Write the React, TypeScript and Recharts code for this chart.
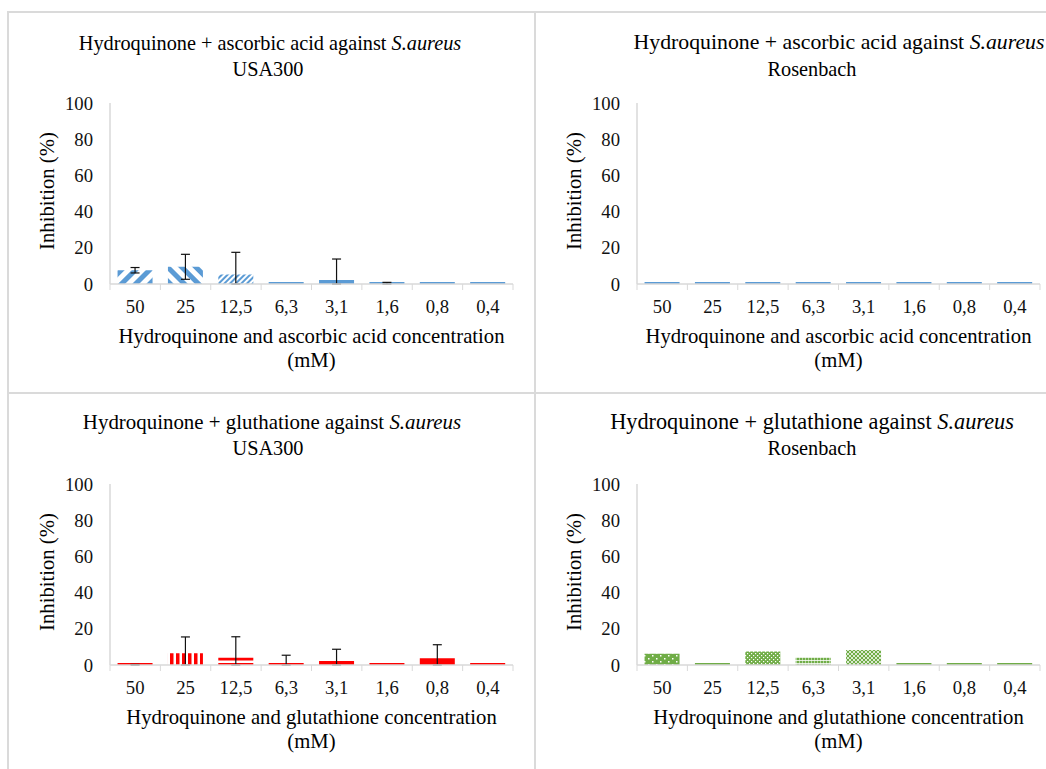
import React from "react";
import { BarChart, Bar, XAxis, YAxis, ErrorBar, Cell } from "recharts";

// ---------- data ----------
const categories = ["50", "25", "12,5", "6,3", "3,1", "1,6", "0,8", "0,4"];
const yTicks = [0, 20, 40, 60, 80, 100];

const ascUsaValues = [7.6, 9.5, 5.2, 0, 2.2, 0, 0, 0];
const ascUsaErrors: (number | null)[] = [1.5, 6.9, 12.3, null, 11.6, 0.9, null, null];

const ascRosValues = [0, 0, 0, 0, 0, 0, 0, 0];

const gluUsaValues = [0, 6.5, 4.0, 0, 2.2, 0, 3.7, 0];
const gluUsaErrors: (number | null)[] = [0.3, 9.0, 11.6, 5.4, 6.5, null, 7.5, null];

const gluRosValues = [6.2, 0, 7.4, 4.4, 8.3, 0, 0, 0];

// ---------- styles ----------
const BLUE = "#5B9BD5";
const RED = "#FF0000";
const GREEN = "#70AD47";
const AXIS = "#d9d9d9";
const FONT = "'Liberation Serif', 'Times New Roman', serif";

const CW = 527;
const CH = 381;
const ML = 102;
const MR = 22;
const MT = 91;
const XH = 30;
const MB = 109 - XH;
const BAND = (CW - ML - MR) / categories.length;

const ascUsaFills = ["url(#bWideUp)", "url(#bWideDown)", "url(#bNarrowUp)", BLUE, BLUE, BLUE, BLUE, BLUE];
const ascRosFills = [BLUE, BLUE, BLUE, BLUE, BLUE, BLUE, BLUE, BLUE];
const gluUsaFills = [RED, "url(#rVert)", "url(#rHoriz)", RED, RED, RED, RED, RED];
const gluRosFills = ["url(#gDotsSparse)", GREEN, "url(#gDotsDense)", "url(#gSmallGrid)", "url(#gChecker)", GREEN, GREEN, GREEN];

function buildRows(values: number[], errors?: (number | null)[]) {
  return categories.map((c, i) => {
    const e = errors ? errors[i] : null;
    return {
      cat: c,
      value: values[i],
      err: e == null ? null : [Math.min(e, values[i]), e],
    };
  });
}

function CatTick(props: any) {
  const { x, y, payload, index } = props;
  return (
    <g>
      <line x1={x - BAND / 2} x2={x - BAND / 2} y1={y} y2={y + 6} stroke={AXIS} strokeWidth={1} />
      {index === categories.length - 1 && (
        <line x1={x + BAND / 2} x2={x + BAND / 2} y1={y} y2={y + 6} stroke={AXIS} strokeWidth={1} />
      )}
      <text
        x={x}
        y={y + 22}
        dy="0.35em"
        textAnchor="middle"
        style={{ fontFamily: FONT, fontSize: 18.7, fill: "#111" }}
      >
        {payload.value}
      </text>
    </g>
  );
}

function YTick(props: any) {
  const { x, y, payload } = props;
  return (
    <text
      x={x}
      y={y}
      dy="0.35em"
      textAnchor="end"
      style={{ fontFamily: FONT, fontSize: 18.7, fill: "#111" }}
    >
      {payload.value}
    </text>
  );
}

function Patterns() {
  return (
    <defs>
      <pattern id="bWideUp" patternUnits="userSpaceOnUse" width="10" height="10" patternTransform="rotate(45)">
        <rect width="10" height="10" fill="#fff" />
        <rect width="5" height="10" fill={BLUE} />
      </pattern>
      <pattern id="bWideDown" patternUnits="userSpaceOnUse" width="10" height="10" patternTransform="rotate(-45)">
        <rect width="10" height="10" fill="#fff" />
        <rect width="5" height="10" fill={BLUE} />
      </pattern>
      <pattern id="bNarrowUp" patternUnits="userSpaceOnUse" width="4" height="4" patternTransform="rotate(45)">
        <rect width="4" height="4" fill="#fff" />
        <rect width="2" height="4" fill={BLUE} />
      </pattern>
      <pattern id="rVert" patternUnits="userSpaceOnUse" width="6" height="6">
        <rect width="6" height="6" fill="#fff" />
        <rect width="3.5" height="6" fill={RED} />
      </pattern>
      <pattern id="rHoriz" patternUnits="userSpaceOnUse" width="6" height="6" y="0">
        <rect width="6" height="6" fill="#fff" />
        <rect width="6" height="3.5" fill={RED} />
      </pattern>
      <pattern id="gDotsSparse" patternUnits="userSpaceOnUse" width="8" height="6">
        <rect width="8" height="6" fill={GREEN} />
        <rect x="1" y="1" width="1.5" height="1.5" fill="#fff" />
        <rect x="5" y="4" width="1.5" height="1.5" fill="#fff" />
      </pattern>
      <pattern id="gDotsDense" patternUnits="userSpaceOnUse" width="4" height="4">
        <rect width="4" height="4" fill={GREEN} />
        <rect x="0" y="0" width="1.2" height="1.2" fill="#fff" />
        <rect x="2" y="2" width="1.2" height="1.2" fill="#fff" />
      </pattern>
      <pattern id="gSmallGrid" patternUnits="userSpaceOnUse" width="3" height="3">
        <rect width="3" height="3" fill={GREEN} />
        <rect x="0" y="0" width="3" height="0.8" fill="#fff" />
        <rect x="0" y="0" width="0.8" height="3" fill="#fff" opacity="0.6" />
      </pattern>
      <pattern id="gChecker" patternUnits="userSpaceOnUse" width="4" height="4">
        <rect width="4" height="4" fill={GREEN} />
        <rect x="0" y="0" width="2" height="2" fill="#fff" opacity="0.75" />
        <rect x="2" y="2" width="2" height="2" fill="#fff" opacity="0.75" />
      </pattern>
    </defs>
  );
}

type PanelProps = {
  left: number;
  top: number;
  rows: any[];
  fills: string[];
  hasErr: boolean;
  title1: React.ReactNode;
  title2: string;
  t1x: number;
  t2x: number;
  titleY: number;
  t1Size: number;
  xTitle: string;
};

function Panel(p: PanelProps) {
  const abs: React.CSSProperties = {
    position: "absolute",
    whiteSpace: "nowrap",
    lineHeight: 1,
    fontFamily: FONT,
    color: "#000",
    transform: "translate(-50%, -50%)",
  };
  return (
    <div style={{ position: "absolute", left: p.left, top: p.top, width: CW, height: CH }}>
      <BarChart
        width={CW}
        height={CH}
        data={p.rows}
        margin={{ top: MT, right: MR, bottom: MB, left: 0 }}
        barCategoryGap="15%"
      >
        <Patterns />
        <XAxis
          dataKey="cat"
          axisLine={{ stroke: AXIS, strokeWidth: 1.5 }}
          tickLine={false}
          tickSize={0}
          tickMargin={0}
          tick={<CatTick />}
          interval={0}
          height={XH}
        />
        <YAxis
          domain={[0, 100]}
          ticks={yTicks}
          width={ML}
          axisLine={{ stroke: AXIS, strokeWidth: 1.5 }}
          tickLine={false}
          tickSize={6}
          tickMargin={11}
          tick={<YTick />}
          allowDataOverflow
        />
        <Bar dataKey="value" isAnimationActive={false} minPointSize={2}>
          {p.rows.map((r, i) => (
            <Cell key={r.cat} fill={p.fills[i]} />
          ))}
          {p.hasErr && (
            <ErrorBar dataKey="err" width={4.5} stroke="#111" strokeWidth={1.2} direction="y" />
          )}
        </Bar>
      </BarChart>
      <div style={{ ...abs, left: p.t1x, top: p.titleY, fontSize: p.t1Size }}>{p.title1}</div>
      <div style={{ ...abs, left: p.t2x, top: p.titleY + 26, fontSize: 20.3 }}>{p.title2}</div>
      <div
        style={{
          ...abs,
          left: 39,
          top: 179,
          fontSize: 20.7,
          transform: "translate(-50%, -50%) rotate(-90deg)",
        }}
      >
        Inhibition (%)
      </div>
      <div style={{ ...abs, left: (ML + CW - MR) / 2, top: 324, fontSize: 20.7 }}>{p.xTitle}</div>
      <div style={{ ...abs, left: (ML + CW - MR) / 2, top: 348, fontSize: 20.7 }}>(mM)</div>
    </div>
  );
}

function Line(props: { x: number; y: number; w: number; h: number }) {
  return (
    <div
      style={{
        position: "absolute",
        left: props.x,
        top: props.y,
        width: props.w,
        height: props.h,
        background: "#dadada",
      }}
    />
  );
}

export default function App() {
  const it = (t: string) => <i>{t}</i>;
  return (
    <div style={{ position: "fixed", left: 0, top: 0, width: 1046, height: 769, overflow: "hidden", background: "#fff" }}>
      <style>{"body{margin:0;overflow:hidden;}"}</style>
      <Panel
        left={8}
        top={12}
        rows={buildRows(ascUsaValues, ascUsaErrors)}
        fills={ascUsaFills}
        hasErr
        title1={<>Hydroquinone + ascorbic acid against {it("S.aureus")}</>}
        title2="USA300"
        t1x={262}
        t2x={260}
        titleY={31}
        t1Size={20.3}
        xTitle="Hydroquinone and ascorbic acid concentration"
      />
      <Panel
        left={535}
        top={12}
        rows={buildRows(ascRosValues)}
        fills={ascRosFills}
        hasErr={false}
        title1={<>Hydroquinone + ascorbic acid against {it("S.aureus")}</>}
        title2="Rosenbach"
        t1x={304}
        t2x={277}
        titleY={31}
        t1Size={21.8}
        xTitle="Hydroquinone and ascorbic acid concentration"
      />
      <Panel
        left={8}
        top={393}
        rows={buildRows(gluUsaValues, gluUsaErrors)}
        fills={gluUsaFills}
        hasErr
        title1={<>Hydroquinone + gluthatione against {it("S.aureus")}</>}
        title2="USA300"
        t1x={264}
        t2x={260}
        titleY={29}
        t1Size={20.9}
        xTitle="Hydroquinone and glutathione concentration"
      />
      <Panel
        left={535}
        top={393}
        rows={buildRows(gluRosValues)}
        fills={gluRosFills}
        hasErr={false}
        title1={<>Hydroquinone + glutathione against {it("S.aureus")}</>}
        title2="Rosenbach"
        t1x={277}
        t2x={277}
        titleY={29}
        t1Size={22.3}
        xTitle="Hydroquinone and glutathione concentration"
      />
      <Line x={8} y={11} w={1040} h={2} />
      <Line x={7} y={11} w={2} h={760} />
      <Line x={534} y={11} w={2} h={760} />
      <Line x={7} y={392} w={1040} h={2} />
    </div>
  );
}
